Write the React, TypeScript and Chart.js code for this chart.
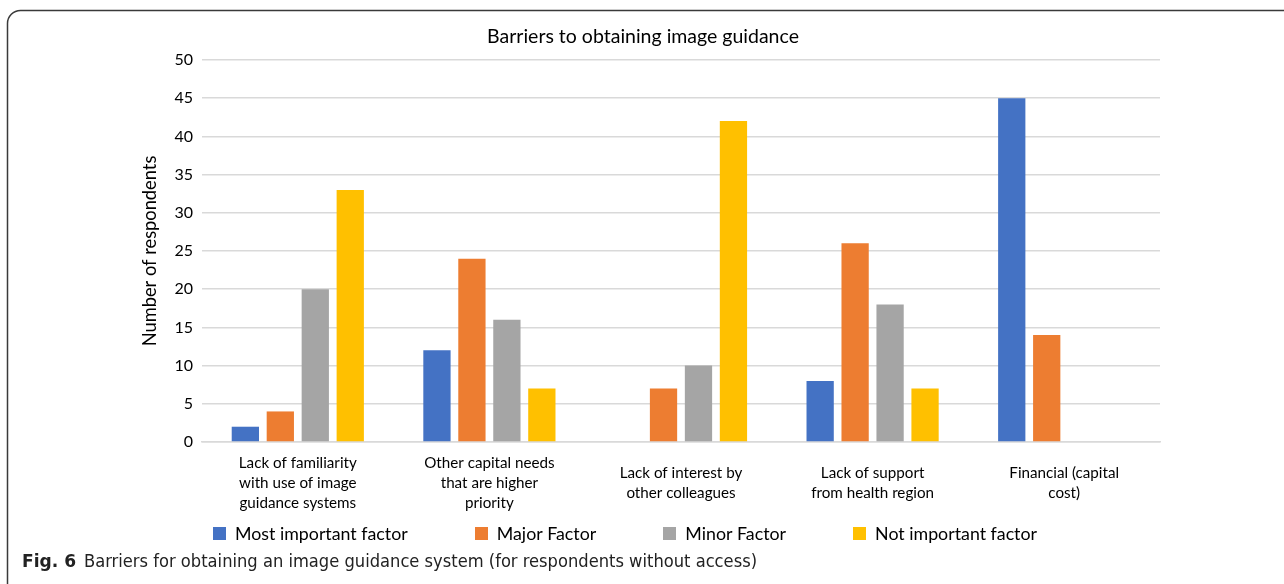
import React, { useEffect, useRef } from "react";
import { Chart, registerables } from "chart.js";

Chart.register(...registerables);

const chartTitle = "Barriers to obtaining image guidance";
const yAxisTitle = "Number of respondents";
const categories: string[][] = [
  ["Lack of familiarity", "with use of image", "guidance systems"],
  ["Other capital needs", "that are higher", "priority"],
  ["Lack of interest by", "other colleagues"],
  ["Lack of support", "from health region"],
  ["Financial (capital", "cost)"],
];
const seriesNames = ["Most important factor", "Major Factor", "Minor Factor", "Not important factor"];
const mostImportant = [2, 12, 0, 8, 45];
const majorFactor = [4, 24, 7, 26, 14];
const minorFactor = [20, 16, 10, 18, 0];
const notImportant = [33, 7, 42, 7, 0];
const yTicks = [0, 5, 10, 15, 20, 25, 30, 35, 40, 45, 50];
const captionBold = "Fig. 6";
const captionText = "Barriers for obtaining an image guidance system (for respondents without access)";

const colors = ["#4472C4", "#ED7D31", "#A5A5A5", "#FFC000"];
const FONT = "Lato, 'Open Sans', sans-serif";
const CAPFONT = "'Liberation Sans Narrow', 'DejaVu Sans Condensed', sans-serif";

function fitText(ctx: CanvasRenderingContext2D, text: string, x: number, y: number, target: number) {
  const w = ctx.measureText(text).width;
  ctx.save();
  ctx.translate(x, y);
  ctx.scale(target / w, 1);
  ctx.fillText(text, 0, 0);
  ctx.restore();
}

const decorPlugin = {
  id: "decor",
  afterDraw(chart: any) {
    const ctx: CanvasRenderingContext2D = chart.ctx;
    ctx.save();
    // frame
    ctx.strokeStyle = "#3a3a3a";
    ctx.lineWidth = 1.5;
    ctx.beginPath();
    ctx.moveTo(7.5, 600);
    ctx.lineTo(7.5, 24);
    ctx.arcTo(7.5, 10.5, 21, 10.5, 13);
    ctx.lineTo(1300, 10.5);
    ctx.stroke();

    // title
    ctx.fillStyle = "#000";
    ctx.font = `19.5px ${FONT}`;
    ctx.textAlign = "center";
    ctx.textBaseline = "middle";
    ctx.fillText(chartTitle, 643, 37);

    // legend: entries laid out with equal gaps between 213 and ~1037
    ctx.font = `17.8px ${FONT}`;
    ctx.textAlign = "left";
    const startX = 213;
    const endX = 1037;
    const widths = seriesNames.map((n) => 22 + ctx.measureText(n).width);
    const total = widths.reduce((a, b) => a + b, 0);
    const gap = (endX - startX - total) / (seriesNames.length - 1);
    let x = startX;
    seriesNames.forEach((name, i) => {
      ctx.fillStyle = colors[i];
      ctx.fillRect(Math.round(x), 527, 13, 13);
      ctx.fillStyle = "#000";
      ctx.fillText(name, x + 22, 534);
      x += widths[i] + gap;
    });

    // caption
    ctx.fillStyle = "#222";
    ctx.font = `bold 18.5px ${CAPFONT}`;
    fitText(ctx, captionBold, 22, 562, 54);
    ctx.font = `18.5px ${CAPFONT}`;
    fitText(ctx, captionText, 84, 562, 673);
    ctx.restore();
  },
};

export default function App() {
  const canvasRef = useRef<HTMLCanvasElement | null>(null);

  useEffect(() => {
    const canvas = canvasRef.current;
    if (!canvas) return;
    const datasets = [mostImportant, majorFactor, minorFactor, notImportant].map((d, i) => ({
      label: seriesNames[i],
      data: d,
      backgroundColor: colors[i],
      borderWidth: 0,
      categoryPercentage: 0.73,
      barPercentage: 0.78,
    }));
    const chart = new Chart(canvas, {
      type: "bar",
      data: { labels: categories, datasets },
      plugins: [decorPlugin],
      options: {
        animation: false,
        responsive: false,
        layout: { padding: { left: 140, top: 60, right: 124, bottom: 0 } },
        plugins: {
          legend: { display: false },
          title: { display: false },
          tooltip: { enabled: false },
        },
        scales: {
          x: {
            grid: { display: false, drawTicks: false },
            border: { display: true, color: "#D9D9D9", width: 1.5 },
            ticks: {
              color: "#000",
              font: { family: FONT, size: 15.2, lineHeight: 1.32 },
              padding: 21,
              maxRotation: 0,
              autoSkip: false,
              crossAlign: "center",
            },
            afterFit: (scale: any) => {
              scale.height = 142;
            },
          },
          y: {
            min: 0,
            max: 50,
            afterBuildTicks: (scale: any) => {
              scale.ticks = yTicks.map((v) => ({ value: v }));
            },
            grid: { color: "#D9D9D9", lineWidth: 1.5, drawTicks: false },
            border: { display: false },
            ticks: {
              color: "#000",
              font: { family: FONT, size: 16 },
              padding: 9,
            },
            title: {
              display: true,
              text: yAxisTitle,
              color: "#000",
              font: { family: FONT, size: 18.3, lineHeight: 1.05 },
              padding: 0,
            },
            afterFit: (scale: any) => {
              scale.width = 62;
            },
          },
        },
      } as any,
    });
    return () => chart.destroy();
  }, []);

  return (
    <div style={{ position: "absolute", left: 0, top: 0, width: 1284, height: 584, background: "#fff" }}>
      <canvas ref={canvasRef} width={1284} height={584} style={{ display: "block" }} />
    </div>
  );
}
